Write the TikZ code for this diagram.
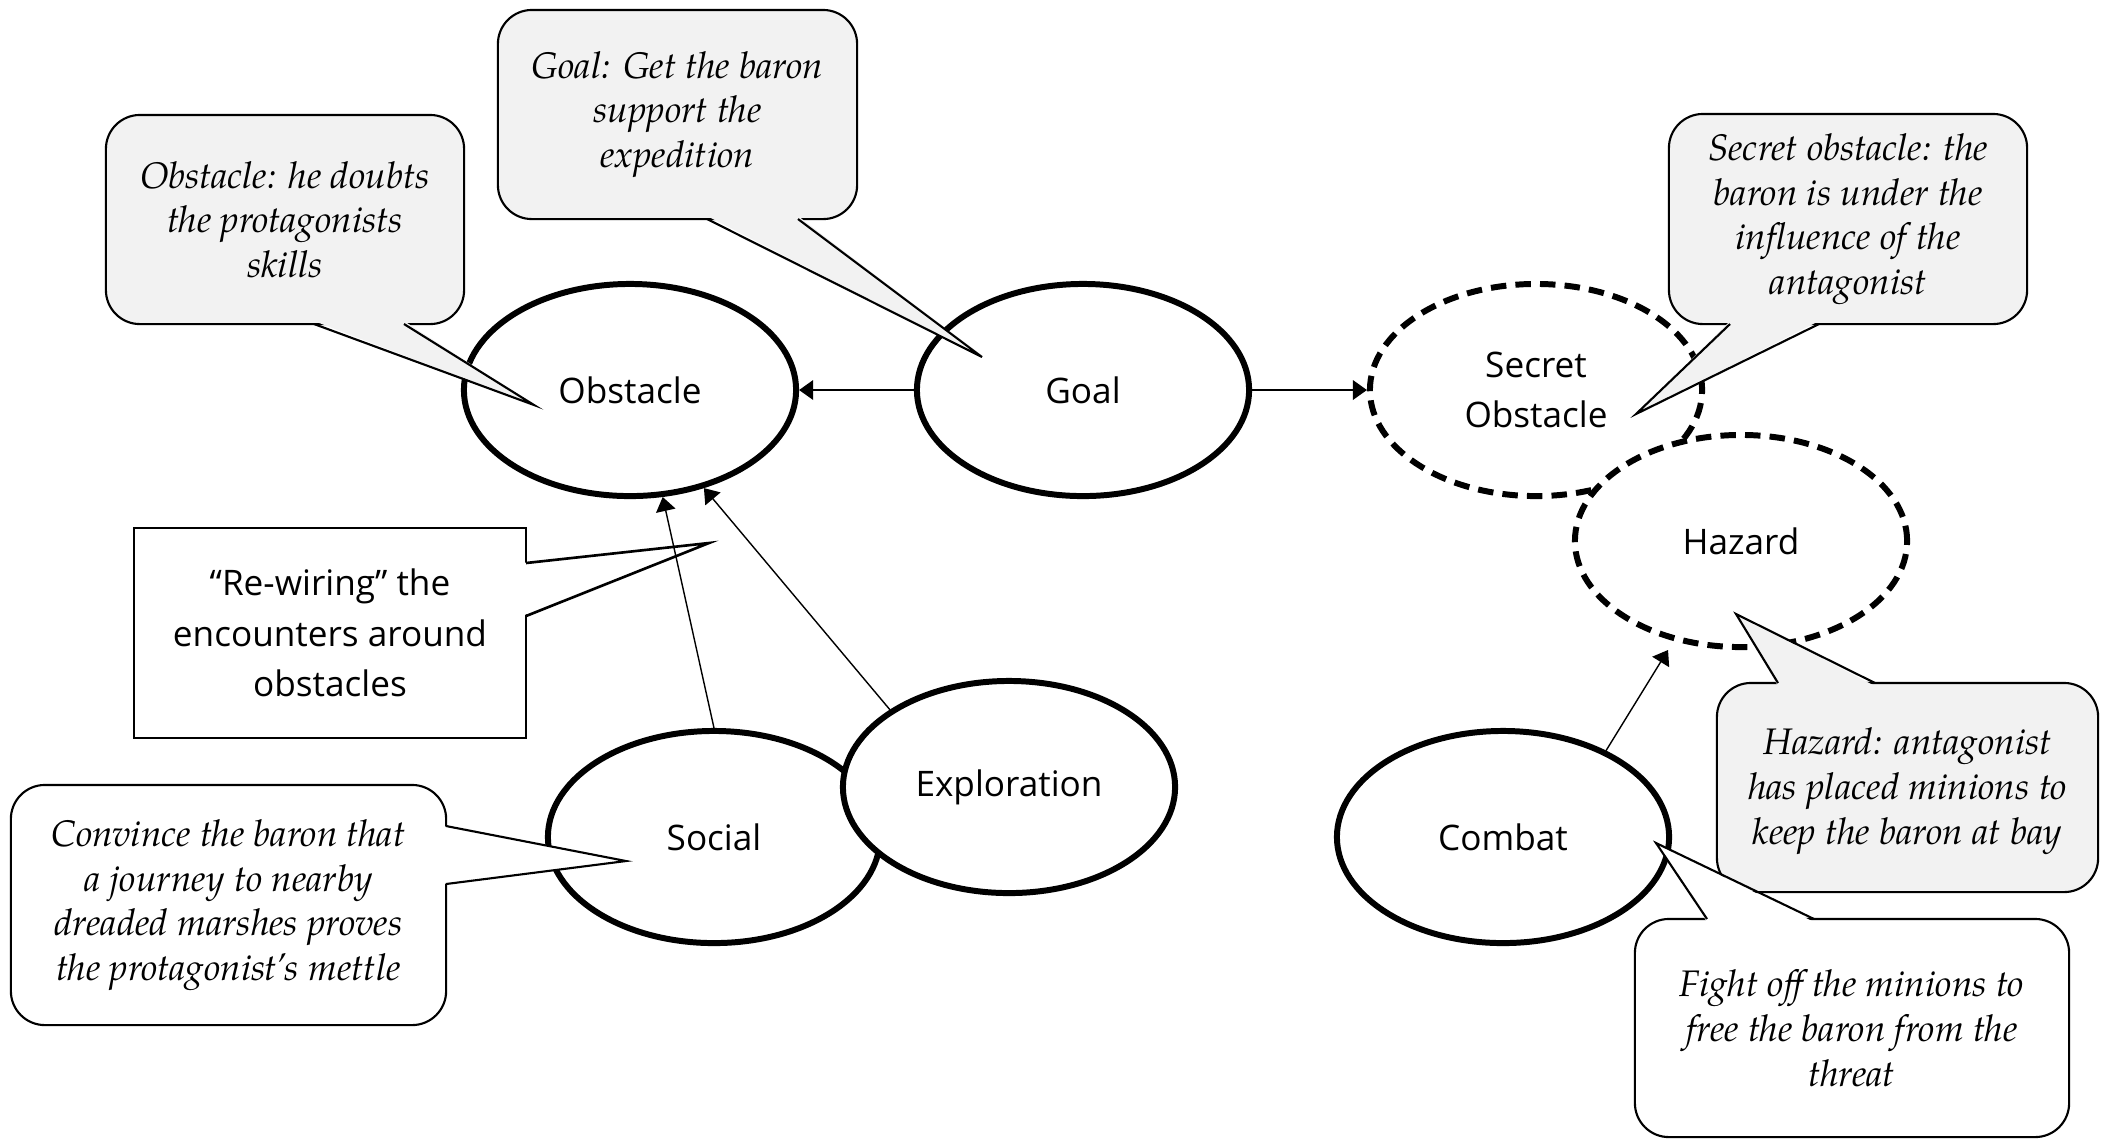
\documentclass[tikz,border=0pt]{standalone}
\usepackage{fontspec}
\usetikzlibrary{shapes.geometric,arrows.meta}
\newfontfamily\labelfont{Open Sans}
\newfontfamily\notefam{TeX Gyre Pagella}
\newcommand\notefont{\notefam\itshape}
\definecolor{notegray}{HTML}{F2F2F2}
\begin{document}
\begin{tikzpicture}[x=0.01cm,y=-0.01cm,
  encounter/.style={ellipse, draw, line width=1.7pt, fill=white,
    minimum width=3.32cm, minimum height=2.12cm, inner sep=0pt, align=center,
    font=\labelfont\fontsize{10}{14.4}\selectfont},
  hidden/.style={dash pattern=on 4.4pt off 2.6pt},
  link/.style={-{Triangle[length=4pt,width=5.6pt]}, line width=0.4pt},
  notebox/.style={draw, line width=0.6pt, rounded corners=0.34cm, inner sep=0pt,
    align=center, font=\notefont\fontsize{10.5}{12.7}\selectfont},
  plainbox/.style={draw, line width=0.75pt, inner sep=0pt, fill=white,
    align=center, font=\labelfont\fontsize{10}{14.4}\selectfont},
  tailline/.style={line width=0.6pt, line join=miter},
]
\useasboundingbox (0,0) rectangle (2116,1141);

% encounter nodes
\node[encounter] (obstacle) at (630,390) {Obstacle};
\node[encounter] (goal) at (1083,390) {Goal};
\node[encounter, hidden] (secret) at (1536,390) {Secret\\Obstacle};
\node[encounter, hidden] (hazard) at (1741,541) {Hazard};
\node[encounter] (social) at (714,837) {Social};
\node[encounter] (exploration) at (1009,787) {Exploration};
\node[encounter] (combat) at (1503,837) {Combat};

% grey notes on the story beats
\node[notebox, fill=notegray, minimum width=3.58cm, minimum height=2.09cm]
  (obsnote) at (285,219.5) {Obstacle: he doubts\\the protagonists\\skills};
\coordinate (obstip) at (534,405);
\fill[notegray] (314,321) -- (404,321) -- (obstip) -- cycle;
\draw[tailline] (314,324) -- (obstip) -- (404,324);

\node[notebox, fill=notegray, minimum width=3.59cm, minimum height=2.09cm]
  (goalnote) at (677.5,114.5) {Goal: Get the baron\\support the\\expedition};
\coordinate (goaltip) at (982,357);
\fill[notegray] (707,216) -- (798,216) -- (goaltip) -- cycle;
\draw[tailline] (707,219) -- (goaltip) -- (798,219);

\node[notebox, fill=notegray, minimum width=3.58cm, minimum height=2.1cm]
  (secretnote) at (1848,219) {Secret obstacle: the\\baron is under the\\influence of the\\antagonist};
\coordinate (secrettip) at (1636,414);
\fill[notegray] (1730,321) -- (1819,321) -- (secrettip) -- cycle;
\draw[tailline] (1730,324) -- (secrettip) -- (1819,324);

\node[notebox, fill=notegray, minimum width=3.81cm, minimum height=2.09cm]
  (hazardnote) at (1907.5,787.5) {};
\node[font=\notefont\fontsize{10.5}{12.7}\selectfont, align=center, inner sep=0pt]
  (hazardtext) at (1907.5,791) {Hazard: antagonist\\has placed minions to\\keep the baron at bay};
\coordinate (hazardtip) at (1736,614);
\fill[notegray] (1778,686) -- (1875,686) -- (hazardtip) -- cycle;
\draw[tailline] (1778,683) -- (hazardtip) -- (1875,683);

% white notes on the encounters
\node[notebox, fill=white, minimum width=4.34cm, minimum height=2.18cm]
  (combatnote) at (1852,1028) {Fight off the minions to\\free the baron from the\\threat};
\coordinate (combattip) at (1656,843);
\fill[white] (1707,922) -- (1814,922) -- (combattip) -- cycle;
\draw[tailline] (1707,919) -- (combattip) -- (1814,919);

\node[notebox, fill=white, minimum width=4.35cm, minimum height=2.4cm]
  (socialnote) at (228.5,905) {Convince the baron that\\a journey to nearby\\dreaded marshes proves\\the protagonist’s mettle};
\coordinate (socialtip) at (626,861);
\fill[white] (443,826) -- (443,884) -- (socialtip) -- cycle;
\draw[tailline] (446,826) -- (socialtip) -- (446,884);

\node[plainbox, minimum width=3.92cm, minimum height=2.1cm]
  (rewire) at (330,633) {“Re-wiring” the\\encounters around\\obstacles};
\coordinate (rewiretip) at (709,543);
\fill[white] (522,563) -- (522,616) -- (rewiretip) -- cycle;
\draw[line width=0.75pt, line join=miter] (526,563) -- (rewiretip) -- (526,616);

% connectors
\draw[link] (goal) -- (obstacle);
\draw[link] (goal) -- (secret);
\draw[link] (social.north) -- (obstacle.-73);
\draw[link] (exploration.147) -- (obstacle.-53);
\draw[link, shorten >=3pt] (combat.40) -- (hazard.236);
\end{tikzpicture}
\end{document}
